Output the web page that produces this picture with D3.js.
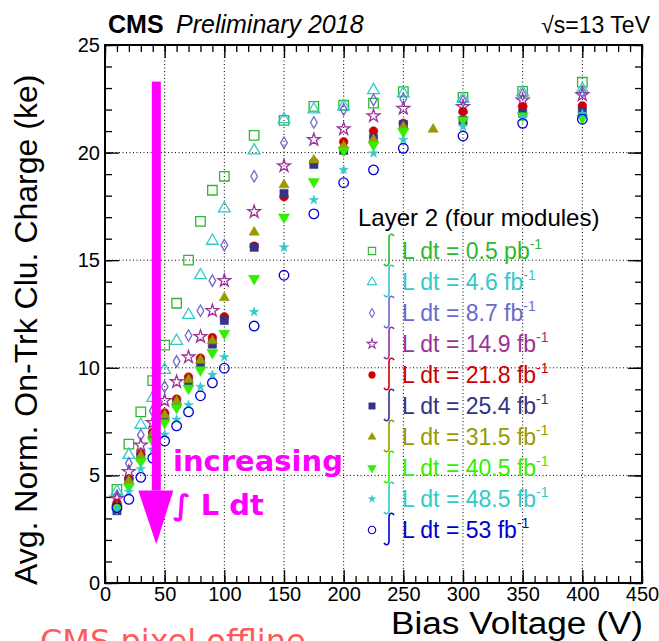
<!DOCTYPE html>
<html>
<head>
<meta charset="utf-8">
<script src="https://cdn.jsdelivr.net/npm/d3@7"></script>
<style>
  body { margin: 0; background: #fff; }
  text { font-family: "Liberation Sans", Arial, sans-serif; }
</style>
</head>
<body>
<div id="chart"></div>
<script>
var width = 659,
    height = 641;

// bias voltage scan points (V)
var voltages = [10, 20, 30, 40, 50, 60, 70, 80, 90, 100, 125, 150, 175, 200, 225, 250, 300, 350, 400];
var voltagesOlive = [10, 20, 30, 40, 50, 60, 70, 80, 90, 100, 125, 150, 175, 200, 225, 250, 275];

// avg. normalised on-track cluster charge (ke), one list per integrated luminosity
var q05  = [4.35, 6.45, 7.95, 9.4, 11.05, 13.0, 15.0, 16.8, 18.25, 18.9, 20.8, 21.5, 22.15, 22.2, 22.3, 22.83, 22.57, 22.85, 23.27];
var q46  = [4.25, 5.95, 7.35, 8.6, 9.9, 11.25, 12.45, 14.3, 15.9, 17.4, 20.1, 21.55, 22.0, 22.15, 22.9, 22.75, 22.5, 22.8, 22.95];
var q87  = [4.05, 5.56, 6.88, 8.0, 9.12, 10.3, 11.5, 12.65, 14.05, 15.7, 18.9, 20.46, 21.4, 22.0, 22.45, 22.5, 22.4, 22.7, 22.83];
var q149 = [3.93, 5.17, 6.4, 7.45, 8.47, 9.35, 10.5, 11.45, 12.65, 14.05, 17.25, 19.38, 20.6, 21.1, 21.7, 22.05, 22.13, 22.44, 22.68];
var q218 = [3.7, 4.82, 6.0, 7.0, 7.9, 8.55, 9.57, 10.45, 11.4, 12.37, 15.65, 17.95, 19.55, 20.5, 21.0, 21.36, 21.9, 22.13, 22.17];
var q254 = [3.36, 4.7, 5.85, 6.85, 7.7, 8.35, 9.3, 10.2, 11.1, 12.2, 15.6, 18.1, 19.45, 20.1, 20.66, 21.3, 21.5, 21.83, 21.9];
var q315 = [3.55, 4.75, 5.9, 6.95, 7.8, 8.45, 9.45, 10.35, 11.25, 13.25, 16.3, 18.5, 19.65, 20.3, 20.6, 21.2, 21.08];
var q405 = [3.48, 4.48, 5.64, 6.6, 7.45, 8.15, 9.05, 9.9, 10.7, 11.6, 14.15, 17.0, 18.65, 20.1, 20.35, 20.97, 21.5, 21.7, 21.6];
var q485 = [3.45, 4.24, 5.3, 6.2, 6.9, 7.6, 8.27, 9.12, 9.67, 10.5, 12.6, 15.6, 17.8, 19.2, 19.97, 20.6, 21.2, 21.65, 21.8];
var q53  = [3.5, 3.89, 4.91, 5.8, 6.6, 7.3, 7.95, 8.7, 9.3, 9.98, 11.94, 14.3, 17.15, 18.6, 19.2, 20.2, 20.77, 21.36, 21.55];

var lumiValues = ["0.5", "4.6", "8.7", "14.9", "21.8", "25.4", "31.5", "40.5", "48.5", "53"];
var lumiUnits  = ["pb", "fb", "fb", "fb", "fb", "fb", "fb", "fb", "fb", "fb"];

var xTicks = [0, 50, 100, 150, 200, 250, 300, 350, 400, 450];
var yTicks = [0, 5, 10, 15, 20, 25];

// marker styles (ROOT-like)
var styles = [
  {color: "#2db92d", sym: d3.symbolSquare,   size: 90, open: true},
  {color: "#33c9c9", sym: d3.symbolTriangle, size: 60, open: true},
  {color: "#6a6acd", sym: d3.symbolDiamond,  size: 38, open: true},
  {color: "#993399", sym: d3.symbolStar,     size: 50, open: true},
  {color: "#cc0000", sym: d3.symbolCircle,   size: 60, open: false},
  {color: "#333388", sym: d3.symbolSquare,   size: 68, open: false},
  {color: "#999900", sym: d3.symbolTriangle, size: 46, open: false},
  {color: "#33ee00", sym: d3.symbolTriangle, size: 54, open: false, flip: true},
  {color: "#33c9c9", sym: d3.symbolStar,     size: 28, open: false},
  {color: "#0000cc", sym: d3.symbolCircle,   size: 72, open: true}
];

var seriesData = [q05, q46, q87, q149, q218, q254, q315, q405, q485, q53];

var svg = d3.select("#chart")
  .append("svg")
  .attr("width", width)
  .attr("height", height)
  .style("display", "block");

svg.append("rect").attr("width", width).attr("height", height).attr("fill", "#fff");

var x = d3.scaleLinear().domain([0, 450]).range([105, 642]);
var y = d3.scaleLinear().domain([0, 25]).range([583, 45]);

// grid
var grid = svg.append("g").attr("stroke", "#000").attr("stroke-width", 1).attr("stroke-dasharray", "1,2.5");
grid.selectAll(".gx").data(xTicks.slice(1, -1)).enter().append("line")
  .attr("x1", d => x(d)).attr("x2", d => x(d)).attr("y1", y(0)).attr("y2", y(25));
grid.selectAll(".gy").data(yTicks.slice(1, -1)).enter().append("line")
  .attr("y1", d => y(d)).attr("y2", d => y(d)).attr("x1", x(0)).attr("x2", x(450));

// axes (ticks drawn inward on all four sides)
function tickAxis(axis, g, values, size, pad) {
  axis.tickValues(values).tickSize(size).tickPadding(pad || 0);
  if (!pad) axis.tickFormat("");
  g.call(axis);
  g.select(".domain").remove();
  g.selectAll("line").attr("stroke", "#000").attr("stroke-width", 1.3);
  g.selectAll("text").attr("font-size", 20).attr("fill", "#000")
    .style("font-family", "Liberation Sans, Arial, sans-serif");
}
var minorX = d3.range(0, 451, 10), minorY = d3.range(0, 25.01, 1);

tickAxis(d3.axisBottom(x), svg.append("g").attr("transform", "translate(0," + y(0) + ")"), xTicks, -13, 4);
tickAxis(d3.axisBottom(x), svg.append("g").attr("transform", "translate(0," + y(0) + ")"), minorX, -7);
tickAxis(d3.axisTop(x), svg.append("g").attr("transform", "translate(0," + y(25) + ")"), xTicks, -13);
tickAxis(d3.axisTop(x), svg.append("g").attr("transform", "translate(0," + y(25) + ")"), minorX, -7);
tickAxis(d3.axisLeft(y), svg.append("g").attr("transform", "translate(" + x(0) + ",0)"), yTicks, -14, 5);
tickAxis(d3.axisLeft(y), svg.append("g").attr("transform", "translate(" + x(0) + ",0)"), minorY, -7);
tickAxis(d3.axisRight(y), svg.append("g").attr("transform", "translate(" + x(450) + ",0)"), yTicks, -14);
tickAxis(d3.axisRight(y), svg.append("g").attr("transform", "translate(" + x(450) + ",0)"), minorY, -7);

// frame
svg.append("rect")
  .attr("x", x(0)).attr("y", y(25))
  .attr("width", x(450) - x(0)).attr("height", y(0) - y(25))
  .attr("fill", "none").attr("stroke", "#000").attr("stroke-width", 2);

// data markers
function marker(st, scale) {
  return d3.symbol().type(st.sym).size(st.size * (scale || 1))();
}
seriesData.forEach(function(vals, i) {
  var st = styles[i];
  var vs = (i === 6) ? voltagesOlive : voltages;
  var pts = vals.map(function(v, k) { return {v: vs[k], q: v}; });
  svg.append("g").selectAll("path").data(pts).enter().append("path")
    .attr("d", marker(st))
    .attr("transform", function(d) {
      return "translate(" + x(d.v) + "," + y(d.q) + ")" + (st.flip ? " rotate(180)" : "");
    })
    .attr("fill", st.open ? "none" : st.color)
    .attr("stroke", st.color)
    .attr("stroke-width", st.open ? 1.3 : 0.5);
});

// legend
svg.append("text").attr("x", 358).attr("y", 226)
  .attr("font-size", 24).attr("fill", "#000")
  .text("Layer 2 (four modules)");

var leg = svg.append("g").selectAll("g").data(lumiValues).enter().append("g")
  .attr("transform", function(d, i) { return "translate(0," + (251 + i * 31) + ")"; });
leg.append("path")
  .attr("d", function(d, i) { return marker(styles[i], 0.6); })
  .attr("transform", function(d, i) { return "translate(372,0)" + (styles[i].flip ? " rotate(180)" : ""); })
  .attr("fill", function(d, i) { return styles[i].open ? "none" : styles[i].color; })
  .attr("stroke", function(d, i) { return styles[i].color; })
  .attr("stroke-width", function(d, i) { return styles[i].open ? 1.1 : 0.5; });
// thin integral sign
leg.append("path")
  .attr("d", "M394,-15 C392,-18 389,-17 389,-13 L389,11 C389,15 386,16 384,13")
  .attr("fill", "none")
  .attr("stroke-width", 1.6)
  .attr("stroke", function(d, i) { return styles[i].color; });
var lt = leg.append("text")
  .attr("x", 402).attr("y", 8)
  .attr("font-size", 23)
  .attr("fill", function(d, i) { return styles[i].color; });
lt.append("tspan").text(function(d, i) { return "L dt = " + d + " " + lumiUnits[i]; });
lt.append("tspan").attr("dy", -10).attr("font-size", 14).text("-1");

// header
svg.append("text").attr("x", 108).attr("y", 33).attr("font-size", 25).attr("font-weight", "bold").text("CMS");
svg.append("text").attr("x", 176).attr("y", 33).attr("font-size", 25).attr("font-style", "italic").text("Preliminary 2018");
svg.append("text").attr("x", 650).attr("y", 33).attr("font-size", 23).attr("text-anchor", "end").text("\u221As=13 TeV");

// axis titles
svg.append("text").attr("x", 643).attr("y", 634).attr("font-size", 31)
  .attr("text-anchor", "end")
  .attr("textLength", 252).attr("lengthAdjust", "spacingAndGlyphs")
  .text("Bias Voltage (V)");
svg.append("text")
  .attr("transform", "translate(37,585) rotate(-90)")
  .attr("font-size", 32).attr("text-anchor", "start")
  .text("Avg. Norm. On-Trk Clu. Charge (ke)");

// annotation arrow
var ann = svg.append("g").attr("fill", "#ff00ff");
ann.append("rect").attr("x", x(43) - 4.5).attr("y", y(23.3)).attr("width", 9).attr("height", y(4.3) - y(23.3));
ann.append("path").attr("d", "M" + (x(43) - 18) + "," + y(4.3) + "L" + (x(43) + 17) + "," + y(4.3) + "L" + x(43) + "," + y(1.8) + "Z");
ann.append("text").attr("x", 173).attr("y", 471).attr("font-size", 29).attr("font-weight", "bold")
  .style("font-family", "DejaVu Sans").text("increasing");
ann.append("text").attr("x", 173).attr("y", 515).attr("font-size", 29).attr("font-weight", "bold")
  .style("font-family", "DejaVu Sans").text("\u222B L dt");

// footer stamp
svg.append("text").attr("x", 40).attr("y", 652).attr("font-size", 32).attr("fill", "#ff5a5a")
  .style("font-family", "DejaVu Sans").text("CMS pixel offline");
</script>
</body>
</html>
